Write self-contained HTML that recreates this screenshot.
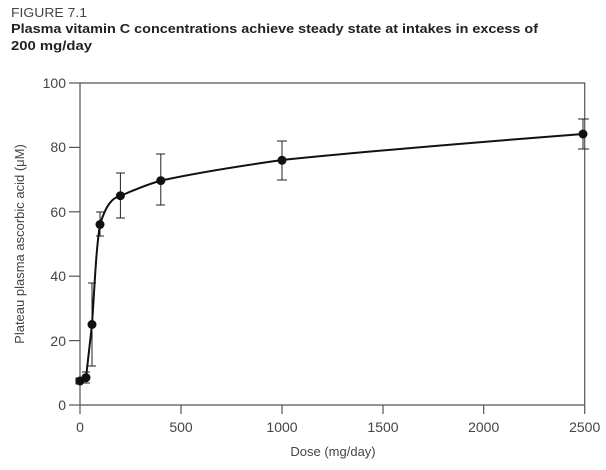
<!DOCTYPE html>
<html><head><style>
body{margin:0;background:#fff;width:606px;height:465px;overflow:hidden;font-family:"Liberation Sans",sans-serif}
</style></head><body>
<svg width="606" height="465" xmlns="http://www.w3.org/2000/svg" font-family="Liberation Sans, sans-serif">
<text x="11" y="17" font-size="13" fill="#444" textLength="76" lengthAdjust="spacingAndGlyphs">FIGURE 7.1</text>
<text x="11" y="33" font-size="13" font-weight="bold" fill="#222" textLength="527" lengthAdjust="spacingAndGlyphs">Plasma vitamin C concentrations achieve steady state at intakes in excess of</text>
<text x="11" y="50" font-size="13" font-weight="bold" fill="#222" textLength="81" lengthAdjust="spacingAndGlyphs">200 mg/day</text>
<g stroke="#555" stroke-width="1.2" fill="none">
<polyline points="80,83 584.7,83 584.7,405 80,405 80,83"/>
<line x1="69" y1="405" x2="80" y2="405"/><line x1="69" y1="340.6" x2="80" y2="340.6"/><line x1="69" y1="276.2" x2="80" y2="276.2"/><line x1="69" y1="211.8" x2="80" y2="211.8"/><line x1="69" y1="147.4" x2="80" y2="147.4"/><line x1="69" y1="83" x2="80" y2="83"/>
<line x1="80" y1="405" x2="80" y2="414"/><line x1="181" y1="405" x2="181" y2="414"/><line x1="282" y1="405" x2="282" y2="414"/><line x1="383" y1="405" x2="383" y2="414"/><line x1="483.7" y1="405" x2="483.7" y2="414"/><line x1="584.7" y1="405" x2="584.7" y2="414"/>
</g>
<g font-size="14" fill="#444" text-anchor="end">
<text x="66" y="410">0</text><text x="66" y="346">20</text><text x="66" y="281">40</text><text x="66" y="217">60</text><text x="66" y="152">80</text><text x="66" y="88">100</text>
</g>
<g font-size="14" fill="#444" text-anchor="middle">
<text x="80" y="432">0</text><text x="181" y="432">500</text><text x="282" y="432">1000</text><text x="383" y="432">1500</text><text x="483.7" y="432">2000</text><text x="584.7" y="432">2500</text>
</g>
<text x="333" y="456" font-size="13" fill="#444" text-anchor="middle">Dose (mg/day)</text>
<text transform="translate(24,244) rotate(-90)" font-size="13" fill="#444" text-anchor="middle">Plateau plasma ascorbic acid (μM)</text>
<g stroke="#222" stroke-width="1" fill="none">
<path d="M80,384 h-4 v-6 h4 v6 M80,384 v-6"/>
<line x1="86" y1="372" x2="86" y2="383"/><line x1="82" y1="372" x2="90" y2="372"/><line x1="82" y1="383" x2="90" y2="383"/>
<line x1="92" y1="283" x2="92" y2="366"/><line x1="88" y1="283" x2="96" y2="283"/><line x1="88" y1="366" x2="96" y2="366"/>
<line x1="100" y1="212" x2="100" y2="236"/><line x1="96" y1="212" x2="104" y2="212"/><line x1="96" y1="236" x2="104" y2="236"/>
<line x1="120.4" y1="173" x2="120.4" y2="218"/><line x1="116" y1="173" x2="125" y2="173"/><line x1="116" y1="218" x2="125" y2="218"/>
<line x1="160.8" y1="154" x2="160.8" y2="205"/><line x1="156" y1="154" x2="165" y2="154"/><line x1="156" y1="205" x2="165" y2="205"/>
<line x1="282" y1="141" x2="282" y2="180"/><line x1="277" y1="141" x2="287" y2="141"/><line x1="277" y1="180" x2="287" y2="180"/>
<line x1="583" y1="119" x2="583" y2="149"/><line x1="578" y1="119" x2="589" y2="119"/><line x1="578" y1="149" x2="589" y2="149"/>
</g>
<path d="M80,381 L86,377.6 L92,324.5 C95,280 96,250 100,224.5 C106,205 112,198 120.4,195.7 C135,190 145,185 160.8,180.6 C200,172 240,166 282,160 C380,150 480,142 583,134" stroke="#111" stroke-width="2" fill="none"/>
<g fill="#111">
<circle cx="80" cy="381" r="4.5"/><circle cx="86" cy="377.6" r="4.5"/><circle cx="92" cy="324.5" r="4.5"/><circle cx="100" cy="224.5" r="4.5"/><circle cx="120.4" cy="195.7" r="4.5"/><circle cx="160.8" cy="180.6" r="4.5"/><circle cx="282" cy="160.3" r="4.5"/><circle cx="583" cy="134" r="4.5"/>
</g>
</svg>
</body></html>
